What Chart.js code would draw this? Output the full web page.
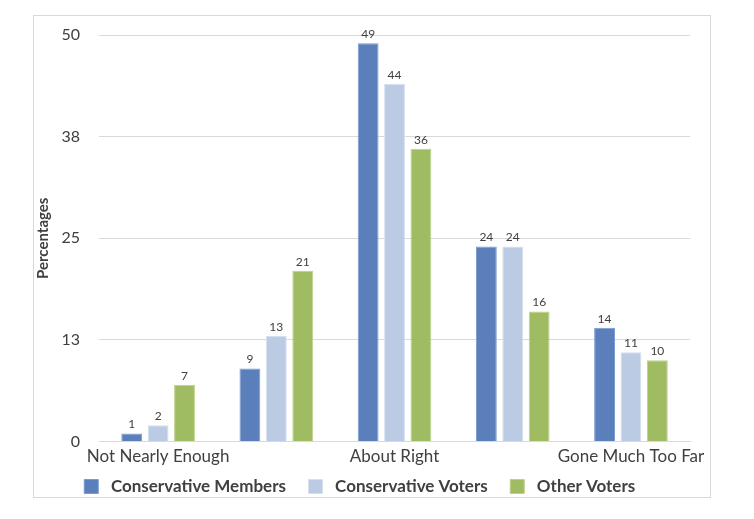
<!DOCTYPE html>
<html>
<head>
<meta charset="utf-8">
<script src="https://cdn.jsdelivr.net/npm/chart.js@4"></script>
<style>
  body { margin: 0; background: #fff; }
  #frame {
    position: absolute; left: 33px; top: 15px;
    width: 676px; height: 481px;
    border: 1px solid #d9d9d9;
  }
</style>
</head>
<body>
<div id="frame"><canvas id="barchart"></canvas></div>
<script>
const categories = ["Not Nearly Enough", "", "About Right", "", "Gone Much Too Far"];
const seriesNames = ["Conservative Members", "Conservative Voters", "Other Voters"];
const members = [1, 9, 49, 24, 14];
const voters = [2, 13, 44, 24, 11];
const others = [7, 21, 36, 16, 10];
const yTicks = [0, 12.5, 25, 37.5, 50];

const textColor = "#404040";

// draws the value above each bar
const barValues = {
  id: "barValues",
  afterDatasetsDraw(chart) {
    const ctx = chart.ctx;
    ctx.save();
    ctx.font = "12px Lato";
    ctx.fillStyle = textColor;
    ctx.textAlign = "center";
    ctx.textBaseline = "bottom";
    chart.data.datasets.forEach((ds, i) => {
      chart.getDatasetMeta(i).data.forEach((bar, j) => {
        ctx.fillText(ds.data[j], bar.x, bar.y - 3);
      });
    });
    ctx.restore();
  },
};

const ctx = document.getElementById("barchart");
new Chart(ctx, {
  type: "bar",
  data: {
    labels: categories,
    datasets: [
      {
        label: seriesNames[0],
        data: members,
        backgroundColor: "#5a7fba",
        borderColor: "#7a9bd0",
        borderWidth: 1,
      },
      {
        label: seriesNames[1],
        data: voters,
        backgroundColor: "#bacbe3",
        borderColor: "#d5e0f0",
        borderWidth: 1,
      },
      {
        label: seriesNames[2],
        data: others,
        backgroundColor: "#a0bc62",
        borderColor: "#bcd28a",
        borderWidth: 1,
      },
    ],
  },
  options: {
    responsive: true,
    maintainAspectRatio: false,
    animation: false,
    categoryPercentage: 0.67,
    barPercentage: 0.79,
    layout: { padding: { top: 19, right: 8, left: 0, bottom: -8 } },
    scales: {
      x: {
        grid: { display: false, drawTicks: false },
        border: { display: true, color: "#d9d9d9" },
        ticks: {
          color: textColor,
          font: { family: "Lato", size: 17 },
          autoSkip: false,
          maxRotation: 0,
          padding: 5,
        },
      },
      y: {
        min: 0,
        max: 50,
        afterBuildTicks(axis) {
          axis.ticks = yTicks.map((v) => ({ value: v }));
        },
        afterFit(scale) {
          scale.width = 65;
        },
        // invisible tick marks keep the labels away from the grid
        grid: {
          color: "#d9d9d9",
          drawTicks: true,
          tickLength: 16,
          tickColor: "rgba(0,0,0,0)",
        },
        border: { display: false },
        ticks: {
          color: textColor,
          font: { family: "Lato", size: 16 },
          padding: 3,
          callback: (v) => Math.round(v),
        },
        title: {
          display: true,
          text: "Percentages",
          color: textColor,
          font: { family: "Lato", size: 15, weight: "bold" },
          padding: { top: 0, bottom: 2 },
        },
      },
    },
    plugins: {
      legend: {
        position: "bottom",
        labels: {
          color: textColor,
          font: { family: "Lato", size: 17, weight: "bold" },
          boxWidth: 14,
          boxHeight: 14,
          padding: 6,
          // a little extra room around the names, like the original
          generateLabels(chart) {
            return Chart.defaults.plugins.legend.labels
              .generateLabels(chart)
              .map((item) => ({ ...item, text: " " + item.text + "    " }));
          },
        },
      },
      tooltip: { enabled: false },
    },
  },
  plugins: [barValues],
});
</script>
</body>
</html>
